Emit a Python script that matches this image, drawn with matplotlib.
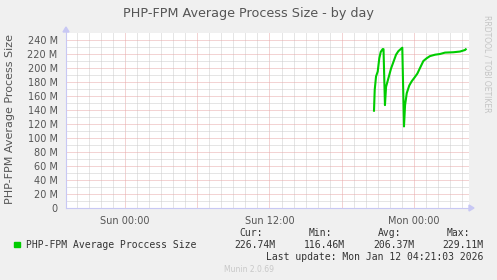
import matplotlib
matplotlib.use("Agg")
import matplotlib.pyplot as plt
from matplotlib.ticker import MultipleLocator, FuncFormatter
from matplotlib.patches import Rectangle

# data: hours since Sun 00:00, value in MB
hours = [20.68, 20.74, 20.85, 20.99, 21.12, 21.24, 21.40, 21.47, 21.59, 21.68,
         21.87, 22.09, 22.28, 22.51, 22.70, 23.03, 23.17, 23.26, 23.40, 23.61,
         23.81, 24.03, 24.28, 24.50, 24.78, 25.06, 25.33, 25.75, 26.16, 26.58,
         27.27, 27.82, 28.24, 28.30]
size_mb = [139, 169, 188, 195, 214, 223, 227, 227, 147, 173,
           185, 199, 208, 219, 224, 229, 116.5, 147, 164, 175,
           181, 186, 192, 200, 210, 214, 217, 219, 220, 222,
           222.5, 223.5, 225.7, 226.7]

xticks = [0, 12, 24]
xtick_labels = ["Sun 00:00", "Sun 12:00", "Mon 00:00"]
stat_names = ["Cur:", "Min:", "Avg:", "Max:"]
stat_values = ["226.74M", "116.46M", "206.37M", "229.11M"]

W, H = 497, 280
bg = "#f0f0f0"
txt = "#555555"
axis_col = "#c8c8f4"

plt.rcParams["lines.scale_dashes"] = False
fig = plt.figure(figsize=(W / 100, H / 100), dpi=100, facecolor=bg)

left, right, top, bottom = 66, 469, 33, 208
ax = fig.add_axes([left / W, 1 - bottom / H, (right - left) / W, (bottom - top) / H])
ax.set_facecolor("white")
ax.set_xlim(-4.9, 28.57)
ax.set_ylim(0, 250)

# rrdtool style dotted grid: minor gray, major red
dots = (0, (0.72, 0.72))
for h in range(-4, 29):
    c = "#e8a8a8" if h % 6 == 0 else "#cdcdcd"
    ax.axvline(h, color=c, lw=0.72, linestyle=dots, zorder=1)
for v in range(10, 250, 10):
    c = "#e8a8a8" if v % 20 == 0 else "#cdcdcd"
    ax.axhline(v, color=c, lw=0.72, linestyle=dots, zorder=1)

ax.plot(hours, size_mb, color="#00cc00", lw=1.5, zorder=3, solid_joinstyle="round")

for s in ax.spines.values():
    s.set_visible(False)
ax.tick_params(length=0, labelsize=7, colors=txt, pad=6)
ax.set_xticks(xticks)
ax.set_xticklabels(xtick_labels)
ax.yaxis.set_major_locator(MultipleLocator(20))
ax.yaxis.set_major_formatter(FuncFormatter(lambda v, p: "0" if v == 0 else "%d M" % v))
ax.set_ylim(0, 250)

# axes lines with arrows (figure pixels)
def fx(px):
    return px / W

def fy(py):
    return 1 - py / H

fig.add_artist(plt.Line2D([fx(66), fx(470)], [fy(208), fy(208)], color=axis_col, lw=0.8))
fig.add_artist(plt.Line2D([fx(66), fx(66)], [fy(208), fy(31)], color=axis_col, lw=0.8))
fig.add_artist(plt.Polygon([[fx(469), fy(205)], [fx(474), fy(208)], [fx(469), fy(211)]],
                           color=axis_col, transform=fig.transFigure))
fig.add_artist(plt.Polygon([[fx(63), fy(32)], [fx(66), fy(27)], [fx(69), fy(32)]],
                           color=axis_col, transform=fig.transFigure))

fig.text(fx(248), fy(14), "PHP-FPM Average Process Size - by day", ha="center", va="center",
         fontsize=9.2, color=txt)
fig.text(fx(10), fy(119), "PHP-FPM Average Process Size", ha="center", va="center",
         rotation=90, fontsize=8, color=txt)
fig.text(fx(487), fy(15), "RRDTOOL / TOBI OETIKER", ha="center", va="top",
         rotation=270, fontsize=5.5, color="#c4c4c4")

# legend
mono = "DejaVu Sans Mono"
fig.add_artist(Rectangle((fx(14), fy(247)), 5.5 / W, 5.5 / H, color="#00cc00",
                         transform=fig.transFigure))
fig.text(fx(26), fy(244.5), "PHP-FPM Average Proccess Size", ha="left", va="center",
         fontsize=7, family=mono, color="#333333")
name_right = [263, 332, 401, 470]
val_right = [275, 345, 414, 483]
for i in range(4):
    fig.text(fx(name_right[i]), fy(233), stat_names[i], ha="right", va="center",
             fontsize=7, family=mono, color="#333333")
    fig.text(fx(val_right[i]), fy(244.5), stat_values[i], ha="right", va="center",
             fontsize=7, family=mono, color="#333333")
fig.text(fx(483), fy(256.7), "Last update: Mon Jan 12 04:21:03 2026", ha="right", va="center",
         fontsize=7, family=mono, color="#333333")
fig.text(fx(249), fy(269), "Munin 2.0.69", ha="center", va="center",
         fontsize=5.5, color="#c8c8c8")

fig.savefig("out.png", dpi=100, facecolor=bg)
